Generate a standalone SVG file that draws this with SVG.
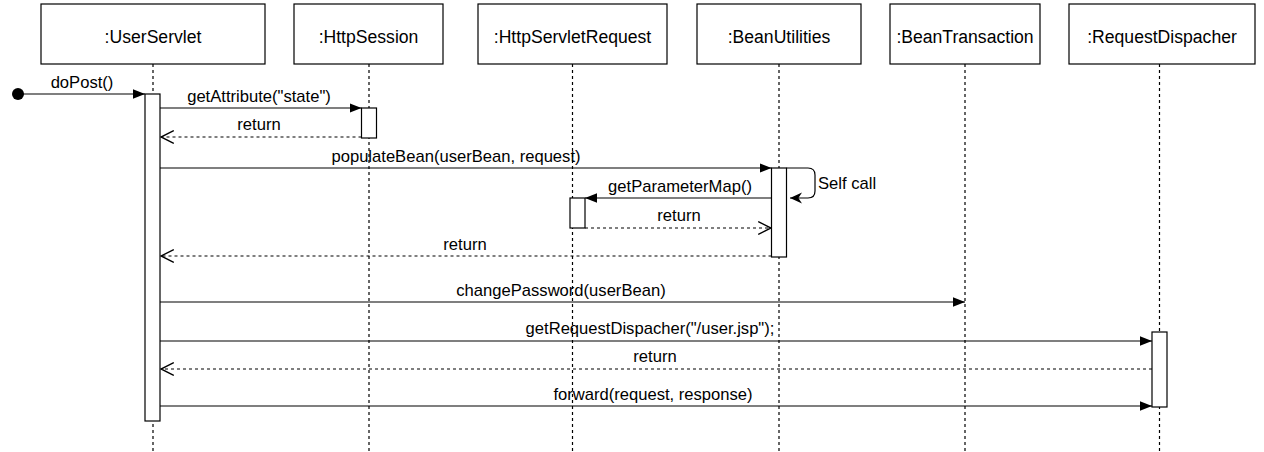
<svg xmlns="http://www.w3.org/2000/svg" width="1264" height="452" viewBox="0 0 1264 452">
<style>
.box{fill:#fff;stroke:#000;stroke-width:1.2}
.life{stroke:#000;stroke-width:1.2;stroke-dasharray:3 3;fill:none}
.act{fill:#fff;stroke:#000;stroke-width:1.2}
.t{font-family:"Liberation Sans",Arial,sans-serif;font-size:16.6px;fill:#000;text-anchor:middle}
.h{font-size:17.6px}
.msg{stroke:#000;stroke-width:1.2;fill:none}
.call{marker-end:url(#block)}
.ret{stroke-dasharray:3 3;marker-end:url(#open)}
</style>
<defs>
<marker id="block" markerUnits="userSpaceOnUse" markerWidth="12" markerHeight="12" refX="10" refY="5" orient="auto" viewBox="0 0 10 10">
<path d="M0,1 L10,5 L0,9 Z" fill="#000"/>
</marker>
<marker id="open" markerUnits="userSpaceOnUse" markerWidth="14" markerHeight="14" refX="11" refY="6" orient="auto" viewBox="0 0 12 12">
<path d="M0,0.5 L11,6 L0,11.5" fill="none" stroke="#000" stroke-width="1.2"/>
</marker>
<marker id="classic" markerUnits="userSpaceOnUse" markerWidth="12" markerHeight="12" refX="10" refY="5" orient="auto" viewBox="0 0 10 10">
<path d="M0,0.5 L10,5 L0,9.5 L3,5 Z" fill="#000"/>
</marker>
</defs>

<g id="lifelines">
<line class="life" x1="153" y1="64" x2="153" y2="452"/>
<line class="life" x1="369" y1="64" x2="369" y2="452"/>
<line class="life" x1="572.5" y1="64" x2="572.5" y2="452"/>
<line class="life" x1="779" y1="64" x2="779" y2="452"/>
<line class="life" x1="965" y1="64" x2="965" y2="452"/>
<line class="life" x1="1159.5" y1="64" x2="1159.5" y2="452"/>
</g>

<g id="UserServlet">
<rect class="box" x="41" y="4" width="224" height="60"/>
<text class="t h" x="153" y="43">:UserServlet</text>
<rect class="act" x="145" y="94" width="15" height="327"/>
</g>
<g id="HttpSession">
<rect class="box" x="294" y="4" width="149" height="60"/>
<text class="t h" x="368.5" y="43">:HttpSession</text>
<rect class="act" x="361.5" y="108" width="15" height="30"/>
</g>
<g id="HttpServletRequest">
<rect class="box" x="478" y="4" width="189" height="60"/>
<text class="t h" x="572.5" y="43">:HttpServletRequest</text>
<rect class="act" x="570" y="198" width="15" height="30"/>
</g>
<g id="BeanUtilities">
<rect class="box" x="697" y="4" width="164" height="60"/>
<text class="t h" x="779" y="43">:BeanUtilities</text>
<rect class="act" x="771.5" y="168" width="15" height="89"/>
</g>
<g id="BeanTransaction">
<rect class="box" x="890" y="4" width="150" height="60"/>
<text class="t h" x="965" y="43">:BeanTransaction</text>
</g>
<g id="RequestDispacher">
<rect class="box" x="1069" y="4" width="186" height="60"/>
<text class="t h" x="1162" y="43">:RequestDispacher</text>
<rect class="act" x="1152" y="332" width="15" height="75"/>
</g>

<g id="connectors">
<circle cx="18" cy="94" r="6" fill="#000"/>
<line class="msg call" x1="18" y1="94" x2="145" y2="94"/>
<text class="t" x="82" y="88">doPost()</text>

<line class="msg call" x1="160" y1="108" x2="361.5" y2="108"/>
<text class="t" x="259" y="102">getAttribute("state")</text>

<line class="msg ret" x1="361.5" y1="137" x2="161" y2="137"/>
<text class="t" x="259" y="130">return</text>

<line class="msg call" x1="160" y1="168" x2="771.5" y2="168"/>
<text class="t" x="456" y="162">populateBean(userBean, request)</text>

<path class="msg" d="M786.5,168 H808 Q815,168 815,175 V191 Q815,198 808,198 H790" marker-end="url(#classic)"/>
<text class="t" x="818" y="189" style="text-anchor:start">Self call</text>

<line class="msg call" x1="771.5" y1="198" x2="585" y2="198"/>
<text class="t" x="680" y="192">getParameterMap()</text>

<line class="msg ret" x1="585" y1="228" x2="771" y2="228"/>
<text class="t" x="679" y="221">return</text>

<line class="msg ret" x1="771.5" y1="256" x2="161" y2="256"/>
<text class="t" x="465" y="250">return</text>

<line class="msg call" x1="160" y1="302" x2="965" y2="302"/>
<text class="t" x="561" y="296">changePassword(userBean)</text>

<line class="msg call" x1="160" y1="341" x2="1152" y2="341"/>
<text class="t" x="650" y="334">getRequestDispacher("/user.jsp");</text>

<line class="msg ret" x1="1152" y1="369" x2="161" y2="369"/>
<text class="t" x="655" y="362">return</text>

<line class="msg call" x1="160" y1="406" x2="1152" y2="406"/>
<text class="t" x="653" y="400">forward(request, response)</text>
</g>
</svg>
